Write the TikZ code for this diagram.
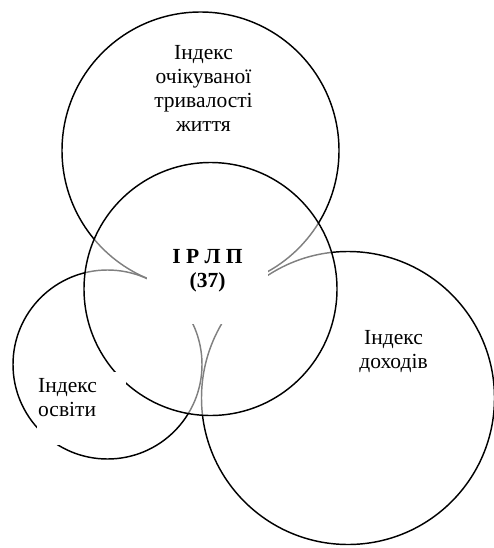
\documentclass[tikz,border=0pt]{standalone}
\usepackage{fontspec}
\setmainfont{Liberation Serif}
\begin{document}
\begin{tikzpicture}[x=1pt,y=-1pt,
  ring/.style={circle, draw=black, line width=1.45pt, inner sep=0pt},
  maskbox/.style={rectangle, fill=white, draw=none, inner sep=0pt},
  lbl/.style={inner sep=0pt, font=\fontsize{21.5}{24}\selectfont}]
\useasboundingbox (0,0) rectangle (494,548);
% outer circles
\node[ring, minimum size=277pt] (life) at (200.5,150.5) {};
\node[ring, minimum size=189pt] (edu) at (107.5,364.5) {};
\node[ring, minimum size=293pt] (inc) at (348,398) {};
% central circle, half transparent white fill
\node[ring, minimum size=253pt, fill=white, fill opacity=0.5, draw opacity=1] (hdi) at (210.5,289) {};
% white text boxes
\node[maskbox, minimum width=121pt, minimum height=83.5pt] (hdimask) at (207.5,281.75) {};
\node[maskbox, minimum width=89pt, minimum height=73pt] (edumask) at (81.5,408.5) {};
% labels
\node[lbl, anchor=base] (lifet) at (203.5,59.5)
  {\begin{tabular}[t]{@{}c@{}}Індекс\\очікуваної\\тривалості\\життя\end{tabular}};
\node[lbl, anchor=base] (hdit) at (207.5,263)
  {\begin{tabular}[t]{@{}c@{}}\textbf{І Р Л П}\\\textbf{(37)}\end{tabular}};
\node[lbl, anchor=base] (inct) at (393.5,344)
  {\begin{tabular}[t]{@{}c@{}}Індекс\\доходів\end{tabular}};
\node[lbl, anchor=base west] (edut) at (38,392.5)
  {\begin{tabular}[t]{@{}l@{}}Індекс\\освіти\end{tabular}};
\end{tikzpicture}
\end{document}
